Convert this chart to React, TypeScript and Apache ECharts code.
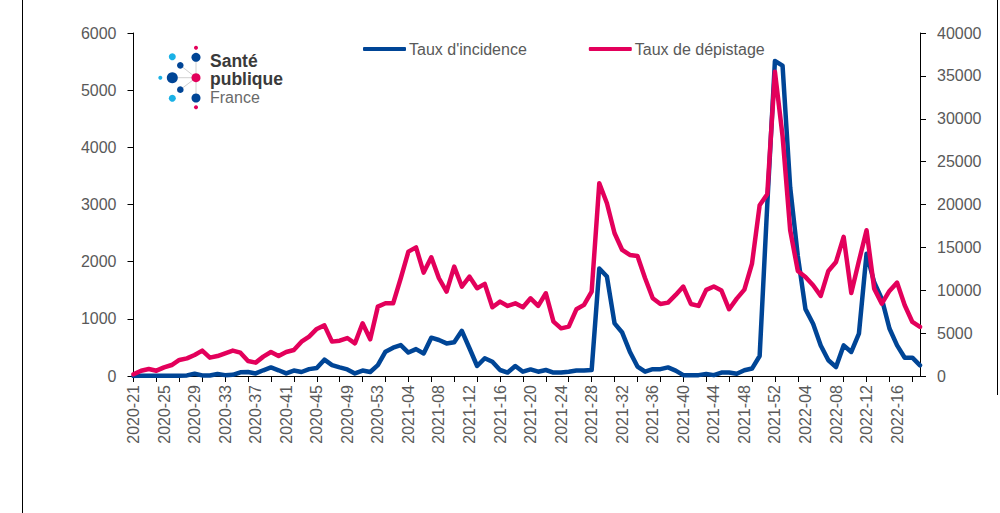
import React, { useEffect, useRef } from "react";
import * as echarts from "echarts";

const weeks = [
  "2020-21","2020-22","2020-23","2020-24","2020-25","2020-26","2020-27","2020-28","2020-29","2020-30",
  "2020-31","2020-32","2020-33","2020-34","2020-35","2020-36","2020-37","2020-38","2020-39","2020-40",
  "2020-41","2020-42","2020-43","2020-44","2020-45","2020-46","2020-47","2020-48","2020-49","2020-50",
  "2020-51","2020-52","2020-53",
  "2021-01","2021-02","2021-03","2021-04","2021-05","2021-06","2021-07","2021-08","2021-09","2021-10",
  "2021-11","2021-12","2021-13","2021-14","2021-15","2021-16","2021-17","2021-18","2021-19","2021-20",
  "2021-21","2021-22","2021-23","2021-24","2021-25","2021-26","2021-27","2021-28","2021-29","2021-30",
  "2021-31","2021-32","2021-33","2021-34","2021-35","2021-36","2021-37","2021-38","2021-39","2021-40",
  "2021-41","2021-42","2021-43","2021-44","2021-45","2021-46","2021-47","2021-48","2021-49","2021-50",
  "2021-51","2021-52",
  "2022-01","2022-02","2022-03","2022-04","2022-05","2022-06","2022-07","2022-08","2022-09","2022-10",
  "2022-11","2022-12","2022-13","2022-14","2022-15","2022-16","2022-17","2022-18","2022-19",
];

const incidence = [
  0, 5, 5, 5, 5, 5, 5, 10, 40, 10,
  10, 35, 15, 20, 65, 70, 45, 100, 150, 100,
  45, 95, 70, 120, 140, 285, 190, 150, 115, 45,
  95, 70, 190,
  425, 495, 540, 410, 470, 395, 670, 630, 570, 590,
  790, 485, 175, 310, 250, 105, 60, 175, 75, 115,
  75, 105, 60, 60, 75, 95, 95, 105, 1880, 1740,
  920, 760, 425, 165, 75, 120, 120, 150, 95, 15,
  15, 15, 35, 15, 60, 60, 40, 100, 130, 350,
  3000, 5510,
  5430, 3300, 2100, 1170, 915, 535, 275, 157, 535, 420,
  740, 2140, 1640, 1350, 830, 535, 320, 320, 187,
];

const depistage = [
  200, 620, 820, 620, 1010, 1280, 1870, 2060, 2450, 2960,
  2140, 2330, 2650, 2960, 2720, 1750, 1560, 2260, 2800, 2330,
  2800, 3030, 4000, 4590, 5490, 5900, 4010, 4120, 4430, 3810,
  6150, 4280, 8090,
  8480, 8480, 11400, 14500, 15000, 12060, 13850, 11400, 9840, 12760,
  10430, 11590, 10230, 10740, 8010, 8670, 8170, 8480, 8010, 9060,
  8170, 9650, 6340, 5560, 5760, 7780, 8290, 9840, 22480, 20150,
  16650, 14700, 14120, 14000, 11400, 9060, 8400, 8560, 9450, 10430,
  8400, 8170, 10040, 10430, 9960, 7780, 9020, 10070, 13110, 19920,
  21200, 35480,
  28000, 17000, 12250, 11550, 10580, 9340, 12250, 13300, 16220, 9690,
  13400, 17000, 10190, 8440, 9920, 10890, 8250, 6300, 5720,
];

const BLUE = "#004596";
const PINK = "#E3005B";
const GRAY = "#595959";
const FONT = "Liberation Sans";

export default function App() {
  const ref = useRef<HTMLDivElement>(null);

  useEffect(() => {
    const chart = echarts.init(ref.current as HTMLDivElement, null, { renderer: "svg" });

    const lightBlue = "#1AB1E6";
    const dot = (cx: number, cy: number, r: number, fill: string) => ({
      type: "circle",
      shape: { cx, cy, r },
      style: { fill },
      silent: true,
    });
    const thin = (x1: number, y1: number, x2: number, y2: number) => ({
      type: "line",
      shape: { x1, y1, x2, y2 },
      style: { stroke: "#d0d0d0", lineWidth: 1 },
      silent: true,
    });
    const plain = (v: number) => String(v);

    chart.setOption({
      animation: false,
      backgroundColor: "#ffffff",
      grid: { left: 133.5, right: 80, top: 33, bottom: 137, containLabel: false },
      legend: {
        top: 36,
        left: 358,
        itemWidth: 43,
        itemHeight: 4,
        itemGap: 62,
        icon: "roundRect",
        textStyle: { color: GRAY, fontSize: 16, fontFamily: FONT, padding: [0, 0, 0, -2] },
        data: ["Taux d'incidence", "Taux de dépistage"],
      },
      xAxis: {
        type: "category",
        data: weeks,
        boundaryGap: false,
        axisLine: { show: true, lineStyle: { color: "#000", width: 1 } },
        axisTick: { show: true, interval: 2, length: 6, lineStyle: { color: "#000" } },
        axisLabel: {
          interval: 3,
          rotate: 90,
          margin: 9,
          color: GRAY,
          fontSize: 16,
          fontFamily: FONT,
        },
        splitLine: { show: false },
      },
      yAxis: [
        {
          type: "value",
          min: 0,
          max: 6000,
          interval: 1000,
          position: "left",
          axisLine: { show: true, lineStyle: { color: "#000", width: 1 } },
          axisTick: { show: true, length: 6, lineStyle: { color: "#000" } },
          axisLabel: { color: GRAY, fontSize: 16, fontFamily: FONT, margin: 17, formatter: plain },
          splitLine: { show: false },
        },
        {
          type: "value",
          min: 0,
          max: 40000,
          interval: 5000,
          position: "right",
          axisLine: { show: true, lineStyle: { color: "#000", width: 1 } },
          axisTick: { show: true, length: 6, lineStyle: { color: "#000" } },
          axisLabel: { color: GRAY, fontSize: 16, fontFamily: FONT, margin: 17, formatter: plain },
          splitLine: { show: false },
        },
      ],
      series: [
        {
          name: "Taux d'incidence",
          type: "line",
          yAxisIndex: 0,
          data: incidence,
          showSymbol: false,
          symbol: "none",
          lineStyle: { color: BLUE, width: 4.5, join: "round", cap: "round" },
          itemStyle: { color: BLUE },
          z: 2,
        },
        {
          name: "Taux de dépistage",
          type: "line",
          yAxisIndex: 1,
          data: depistage,
          showSymbol: false,
          symbol: "none",
          lineStyle: { color: PINK, width: 4.5, join: "round", cap: "round" },
          itemStyle: { color: PINK },
          z: 3,
        },
      ],
      graphic: [
        { type: "line", shape: { x1: 22.5, y1: 0, x2: 22.5, y2: 513 }, style: { stroke: "#000", lineWidth: 1 }, silent: true },
        { type: "line", shape: { x1: 997.5, y1: 0, x2: 997.5, y2: 395 }, style: { stroke: "#000", lineWidth: 1 }, silent: true },
        thin(172.3, 77.7, 196, 77.7),
        thin(180.3, 65.3, 196, 77.7),
        thin(180.3, 89.7, 196, 77.7),
        thin(196, 57.3, 196, 98),
        dot(196, 47.7, 2, PINK),
        dot(172.3, 56.7, 3.5, lightBlue),
        dot(196, 57.3, 4.5, BLUE),
        dot(180.3, 65.3, 3.3, BLUE),
        dot(160.3, 77.7, 2, lightBlue),
        dot(172.3, 77.7, 5.5, BLUE),
        dot(196, 77.7, 4.5, PINK),
        dot(180.3, 89.7, 3.3, BLUE),
        dot(172.3, 98.3, 3.5, lightBlue),
        dot(196, 98, 4.5, BLUE),
        dot(196, 107.3, 2, PINK),
        {
          type: "text",
          left: 210,
          top: 52,
          style: { text: "Santé", fill: "#3a3a3a", font: `bold 17.5px "${FONT}"`, lineHeight: 15 },
          silent: true,
        },
        {
          type: "text",
          left: 210,
          top: 70,
          style: { text: "publique", fill: "#3a3a3a", font: `bold 17.5px "${FONT}"`, lineHeight: 15 },
          silent: true,
        },
        {
          type: "text",
          left: 210,
          top: 89,
          style: { text: "France", fill: "#6a6a6a", font: `16px "${FONT}"`, lineHeight: 14 },
          silent: true,
        },
      ],
    });

    return () => chart.dispose();
  }, []);

  return (
    <div
      ref={ref}
      style={{ position: "fixed", left: 0, top: 0, width: 1000, height: 513, background: "#fff" }}
    />
  );
}
